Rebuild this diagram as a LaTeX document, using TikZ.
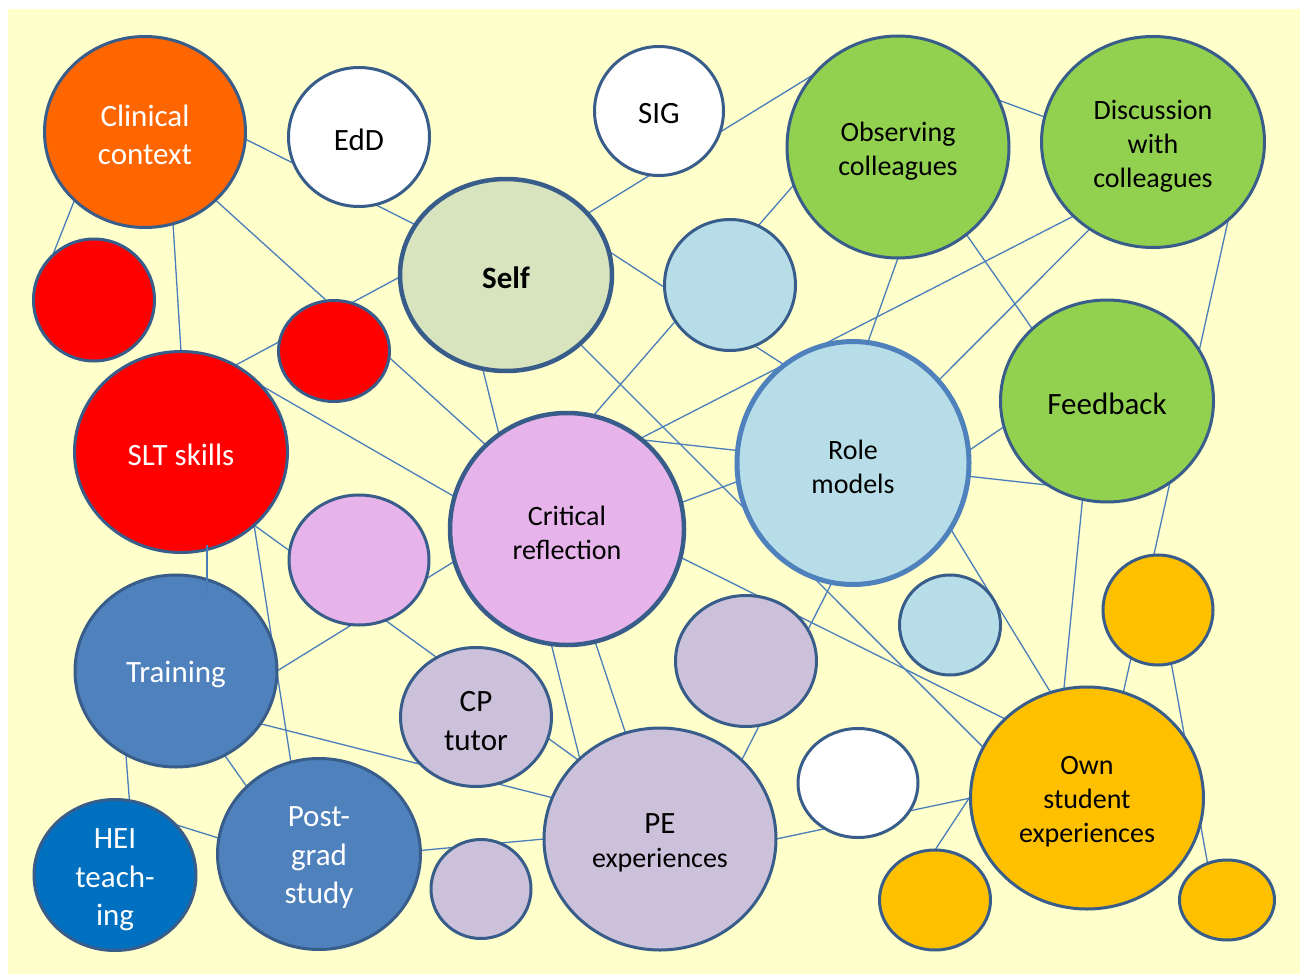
\documentclass[tikz,border=0pt]{standalone}
\usepackage{fontspec}
\setmainfont{Carlito}
\usetikzlibrary{shapes.geometric,calc}
\pgfdeclarelayer{back}
\pgfdeclarelayer{links}
\pgfdeclarelayer{front}
\pgfsetlayers{back,links,main,front}

\definecolor{paper}{HTML}{FFFFCC}
\definecolor{rim}{HTML}{385D8A}
\definecolor{rimlight}{HTML}{4F81BD}
\definecolor{linkc}{HTML}{4A7EBB}
\definecolor{corange}{HTML}{FF6600}
\definecolor{cred}{HTML}{FF0000}
\definecolor{cgreen}{HTML}{92D050}
\definecolor{csage}{HTML}{D7E4BD}
\definecolor{cblue}{HTML}{B7DEE8}
\definecolor{cpink}{HTML}{E6B4EA}
\definecolor{clav}{HTML}{CCC1DA}
\definecolor{csteel}{HTML}{4F81BD}
\definecolor{croyal}{HTML}{0070C0}
\definecolor{camber}{HTML}{FFC000}

\begin{document}
\begin{tikzpicture}[x=1pt,y=-1pt,
  bub/.style={ellipse, draw=rim, line width=3pt, inner sep=0pt, outer sep=0pt},
  thick bub/.style={bub, line width=4.5pt},
  link/.style={draw=linkc, line width=1.3pt},
  big/.style={align=center, yshift=-3pt, font=\fontsize{31}{38.5}\selectfont},
  small/.style={align=center, yshift=-4pt, font=\fontsize{28}{34}\selectfont},
  light/.style={text=white}]

\useasboundingbox (0,0) rectangle (1307,974);
\begin{pgfonlayer}{back}
  \fill[white] (0,0) rectangle (1307,974);
  \fill[paper] (8,9) rectangle (1300,974);
\end{pgfonlayer}

% bubbles
\node[bub, fill=corange, minimum width=201pt, minimum height=191pt] (cc) at (145,132) {};
\node[bub, fill=white, minimum width=141pt, minimum height=139pt] (edd) at (359,137) {};
\node[bub, fill=white, minimum width=129pt, minimum height=129pt] (sig) at (659,111) {};
\node[bub, fill=cgreen, minimum width=222pt, minimum height=222pt] (obs) at (898,147) {};
\node[bub, fill=cgreen, minimum width=223pt, minimum height=211pt] (disc) at (1153,142) {};
\node[thick bub, fill=csage, minimum width=212pt, minimum height=192pt] (self) at (506,275) {};
\node[bub, fill=cblue, minimum width=131pt, minimum height=131pt] (sb1) at (730,285) {};
\node[bub, fill=cred, minimum width=121pt, minimum height=122pt] (rl) at (94,300) {};
\node[bub, fill=cred, minimum width=111pt, minimum height=101pt] (rm) at (334,351) {};
\node[bub, fill=cred, minimum width=213pt, minimum height=201pt] (slt) at (181,452) {};
\node[thick bub, fill=cpink, minimum width=234pt, minimum height=232pt] (crit) at (567,529) {};
\node[bub, draw=rimlight, line width=5pt, fill=cblue, minimum width=232pt, minimum height=243pt] (role) at (853,463) {};
\node[bub, fill=cgreen, minimum width=213pt, minimum height=202pt] (fb) at (1107,401) {};
\node[bub, fill=cpink, minimum width=140pt, minimum height=130pt] (pk) at (359,560) {};
\node[bub, fill=csteel, minimum width=202pt, minimum height=192pt] (trn) at (176,671) {};
\node[bub, fill=clav, minimum width=151pt, minimum height=139pt] (cp) at (476,717) {};
\node[bub, fill=croyal, minimum width=162pt, minimum height=151pt] (hei) at (115,875) {};
\node[bub, fill=csteel, minimum width=203pt, minimum height=191pt] (pg) at (319,854) {};
\node[bub, fill=clav, minimum width=100pt, minimum height=99pt] (lv1) at (481,889) {};
\node[bub, fill=clav, minimum width=232pt, minimum height=222pt] (pe) at (660,839) {};
\node[bub, fill=clav, minimum width=141pt, minimum height=131pt] (lv2) at (746,661) {};
\node[bub, fill=white, minimum width=120pt, minimum height=109pt] (wh) at (858,783) {};
\node[bub, fill=cblue, minimum width=101pt, minimum height=100pt] (sb2) at (950,625) {};
\node[bub, fill=camber, minimum width=233pt, minimum height=222pt] (own) at (1087,798) {};
\node[bub, fill=camber, minimum width=110pt, minimum height=110pt] (o1) at (1158,610) {};
\node[bub, fill=camber, minimum width=111pt, minimum height=100pt] (o2) at (935,900) {};
\node[bub, fill=camber, minimum width=95pt, minimum height=80pt] (o3) at (1227,900) {};

% connectors, running behind the bubbles
\begin{pgfonlayer}{links}
  \draw[link] (cc.356.7) -- (self.151.5);
  \draw[link] (cc.224.6) -- (rl.133);
  \draw[link] (cc.287.7) -- (slt.90);
  \draw[link] (cc.316.6) -- (crit.134.3);
  \draw[link] (slt.58.4) -- (self.181);
  \draw[link] (slt.40.4) -- (crit.164.4);
  \draw[link] (self.37.6) -- (obs.139);
  \draw[link] (self.13.7) -- (role.125.1);
  \draw[link] (crit.77.5) -- (obs.200.3);
  \draw[link] (self.317.7) -- (own.154.9);
  \draw[link] (crit.51.4) -- (disc.223.9);
  \draw[link] (crit.50.4) -- (fb.235.1);
  \draw[link] (crit.13.7) -- (role.189.2);
  \draw[link] (role.44.7) -- (disc.234.2);
  \draw[link] (role.83.6) -- (obs.270);
  \draw[link] (obs.308) -- (fb.136.5);
  \draw[link] (obs.25.7) -- (disc.167.3);
  \draw[link] (disc.314.6) -- (own.71.1);
  \draw[link] (fb.256.4) -- (own.102.7);
  \draw[link] (role.326.2) -- (own.109.9);
  \draw[link] (role.260.1) -- (pe.44);
  \draw[link] (crit.346.5) -- (own.136.4);
  \draw[link] (self.256.1) -- (pe.135);
  \draw[link] (crit.284.7) -- (pe.108);
  \draw[link] (trn.0.6) -- (crit.196.1);
  \draw[link] (slt.315.8) -- (pe.136);
  \draw[link] (slt.315.4) -- (pg.107.7);
  \draw[link] (trn.328.2) -- (pe.159.9);
  \draw[link] (trn.300.7) -- (pg.137);
  \draw[link] (trn.239.6) -- (hei.79.1);
  \draw[link] (hei.40) -- (pg.171.2);
  \draw[link] (pg.2.8) -- (pe.180);
  \draw[link] (pe.0.5) -- (own.180);
  \draw[link] (own.179.5) -- (o2.90);
  \draw[link] (o1.284.7) -- (o3.118.2);
  \draw[link] (role.6.2) -- (fb.194);
\end{pgfonlayer}

% short link laid over SLT skills and Training
\begin{pgfonlayer}{front}
  \draw[link] ($(slt.center)+(26,93)$) -- ($(trn.center)+(31,-76)$);
\end{pgfonlayer}

% labels
\node[big, light] (cc-t) at (cc.center) {Clinical\\context};
\node[big] (edd-t) at (edd.center) {EdD};
\node[big] (sig-t) at (sig.center) {SIG};
\node[small] (obs-t) at (obs.center) {Observing\\colleagues};
\node[small] (disc-t) at (disc.center) {Discussion\\with\\colleagues};
\node[big, font=\fontsize{31}{38.5}\selectfont\bfseries] (self-t) at (self.center) {Self};
\node[big, light] (slt-t) at (slt.center) {SLT skills};
\node[small] (crit-t) at (crit.center) {Critical\\reflection};
\node[small] (role-t) at (role.center) {Role\\models};
\node[big] (fb-t) at (fb.center) {Feedback};
\node[big, light] (trn-t) at (trn.center) {Training};
\node[big, yshift=-1pt] (cp-t) at (cp.center) {CP\\tutor};
\node[big, light, yshift=-2pt] (hei-t) at (hei.center) {HEI\\teach-\\ing};
\node[big, light, yshift=-1pt] (pg-t) at (pg.center) {Post-\\grad\\study};
\node[small] (pe-t) at (pe.center) {{\fontsize{31}{36}\selectfont PE}\\experiences};
\node[small] (own-t) at (own.center) {Own\\student\\experiences};
\end{tikzpicture}
\end{document}
